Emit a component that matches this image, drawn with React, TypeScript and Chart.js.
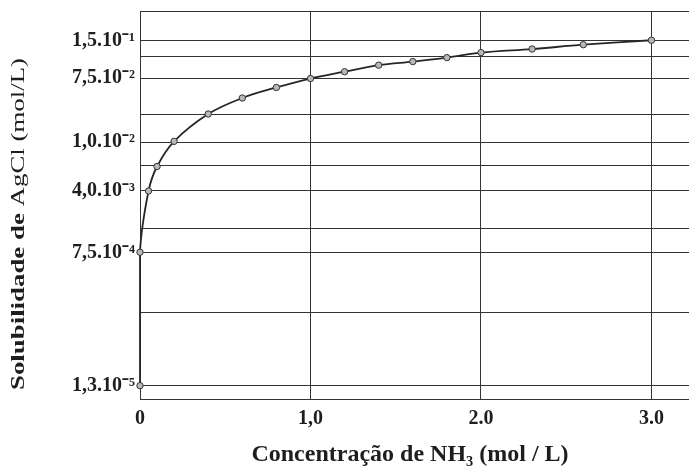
import React, { useEffect, useRef } from 'react';
import { Chart, registerables, Scale } from 'chart.js';

// ---- data ----
const NH3_CONC = [0, 0, 0.05, 0.1, 0.2, 0.4, 0.6, 0.8, 1.0, 1.2, 1.4, 1.6, 1.8, 2.0, 2.3, 2.6, 3.0];
const AGCL_SOLUBILITY = [
  1.3e-5, 7.6e-4, 4.0e-3, 6.4e-3, 1.03e-2, 2.4e-2, 4.0e-2, 5.6e-2, 7.45e-2,
  8.4e-2, 9.4e-2, 1.0e-1, 1.07e-1, 1.18e-1, 1.27e-1, 1.39e-1, 1.52e-1,
];

const X_TICK_VALUES = [0, 1, 2, 3];
const X_TICK_LABELS = ['0', '1,0', '2.0', '3.0'];

// y axis gridlines (ascending) and their labels
const Y_GRID_VALUES = [8.8e-6, 1.3e-5, 1.2e-4, 7.5e-4, 1.5e-3, 4.0e-3, 6.5e-3, 1.0e-2, 2.4e-2, 7.5e-2, 1.1e-1, 1.5e-1, 2.6e-1];
const Y_GRID_LABELS = ['', '1,3.10⁻⁵', '', '7,5.10⁻⁴', '', '4,0.10⁻³', '', '1,0.10⁻²', '', '7,5.10⁻²', '', '1,5.10⁻¹', ''];
// axis layout: fraction of the axis height at which each gridline value sits (non-uniform hand-drawn axis)
const Y_GRID_FRACTIONS = [0, 0.0343, 0.2224, 0.3771, 0.4399, 0.5361, 0.6013, 0.6616, 0.7345, 0.8265, 0.884, 0.9227, 1];

const X_TITLE = 'Concentração de NH₃ (mol / L)';
const Y_TITLE_BOLD = 'Solubilidade de ';
const Y_TITLE_REST = 'AgCl (mol/L)';

const FONT = '"Liberation Serif", "Times New Roman", serif';

function toDecimal(v: number): number {
  const vals = Y_GRID_VALUES;
  const fr = Y_GRID_FRACTIONS;
  if (v <= vals[0]) return fr[0];
  if (v >= vals[vals.length - 1]) return fr[fr.length - 1];
  const lv = Math.log10(v);
  for (let i = 0; i < vals.length - 1; i++) {
    if (v <= vals[i + 1]) {
      const a = Math.log10(vals[i]);
      const b = Math.log10(vals[i + 1]);
      const t = (lv - a) / (b - a);
      return fr[i] + t * (fr[i + 1] - fr[i]);
    }
  }
  return 1;
}

function fromDecimal(d: number): number {
  const vals = Y_GRID_VALUES;
  const fr = Y_GRID_FRACTIONS;
  if (d <= fr[0]) return vals[0];
  if (d >= fr[fr.length - 1]) return vals[vals.length - 1];
  for (let i = 0; i < fr.length - 1; i++) {
    if (d <= fr[i + 1]) {
      const t = (d - fr[i]) / (fr[i + 1] - fr[i]);
      const a = Math.log10(vals[i]);
      const b = Math.log10(vals[i + 1]);
      return Math.pow(10, a + t * (b - a));
    }
  }
  return vals[vals.length - 1];
}

class AnchoredScale extends Scale {
  static id = 'anchored';
  static defaults = {};
  determineDataLimits() {
    (this as any).min = Y_GRID_VALUES[0];
    (this as any).max = Y_GRID_VALUES[Y_GRID_VALUES.length - 1];
  }
  buildTicks() {
    return Y_GRID_VALUES.map((v) => ({ value: v }));
  }
  getLabelForValue(v: number) {
    return String(v);
  }
  getPixelForValue(v: number) {
    return this.getPixelForDecimal(toDecimal(v));
  }
  getPixelForTick(i: number) {
    const t = (this as any).ticks;
    if (i < 0 || i >= t.length) return NaN;
    return this.getPixelForValue(t[i].value);
  }
  getValueForPixel(p: number) {
    return fromDecimal(this.getDecimalForPixel(p));
  }
}

Chart.register(...registerables, AnchoredScale as any);

const titlePlugin = {
  id: 'axisTitles',
  afterDraw(chart: any) {
    const ctx = chart.ctx as CanvasRenderingContext2D;
    ctx.save();
    ctx.fillStyle = '#1e1e1e';
    ctx.font = `bold 24px ${FONT}`;
    ctx.textAlign = 'center';
    ctx.textBaseline = 'alphabetic';
    ctx.fillText(X_TITLE, 410, 461);
    ctx.restore();

    ctx.save();
    ctx.fillStyle = '#1e1e1e';
    ctx.translate(24, 224);
    ctx.rotate(-Math.PI / 2);
    ctx.textBaseline = 'alphabetic';
    ctx.textAlign = 'left';
    ctx.font = `bold 19px ${FONT}`;
    const w1 = ctx.measureText(Y_TITLE_BOLD).width;
    ctx.font = `19px ${FONT}`;
    const w2 = ctx.measureText(Y_TITLE_REST).width;
    const sx = 332 / (w1 + w2);
    ctx.scale(sx, 1);
    const start = -(w1 + w2) / 2;
    ctx.font = `bold 19px ${FONT}`;
    ctx.fillText(Y_TITLE_BOLD, start, 0);
    ctx.font = `19px ${FONT}`;
    ctx.fillText(Y_TITLE_REST, start + w1, 0);
    ctx.restore();
  },
};

const zeroPad = (s: any) => {
  s.paddingTop = 0;
  s.paddingBottom = 0;
  s.paddingLeft = 0;
  s.paddingRight = 0;
};

export default function App() {
  const ref = useRef<HTMLCanvasElement | null>(null);
  useEffect(() => {
    if (!ref.current) return;
    const chart = new Chart(ref.current, {
      type: 'line',
      data: {
        datasets: [
          {
            data: NH3_CONC.map((x, i) => ({ x, y: AGCL_SOLUBILITY[i] })),
            borderColor: '#262626',
            borderWidth: 1.8,
            tension: 0.35,
            pointRadius: 3.2,
            pointBorderWidth: 1,
            pointBorderColor: '#333',
            pointBackgroundColor: '#b8b8b8',
            clip: false as any,
          },
        ],
      },
      options: {
        animation: false,
        responsive: false,
        events: [],
        layout: { autoPadding: false, padding: { top: 11, left: 0, right: 0, bottom: 0 } },
        plugins: { legend: { display: false }, tooltip: { enabled: false } },
        scales: {
          x: {
            type: 'linear',
            min: 0,
            max: 3.22,
            afterBuildTicks: (s: any) => {
              s.ticks = X_TICK_VALUES.map((v) => ({ value: v }));
            },
            afterFit: (s: any) => {
              s.height = 67;
              zeroPad(s);
            },
            grid: { color: '#333', lineWidth: 1, drawTicks: false },
            border: { color: '#333', width: 1 },
            ticks: {
              padding: 8,
              color: '#1e1e1e',
              font: { family: FONT, size: 20, weight: 'bold' },
              maxRotation: 0,
              autoSkip: false,
              callback: (v: any) => {
                const i = X_TICK_VALUES.indexOf(Number(v));
                return i >= 0 ? X_TICK_LABELS[i] : '';
              },
            },
          },
          y: {
            type: 'anchored' as any,
            afterFit: (s: any) => {
              s.width = 140;
              zeroPad(s);
            },
            grid: { color: '#333', lineWidth: 1, drawTicks: false },
            border: { color: '#333', width: 1 },
            ticks: {
              padding: 5,
              color: '#1e1e1e',
              autoSkip: false,
              font: { family: FONT, size: 20, weight: 'bold' },
              callback: (v: any, i: number) => Y_GRID_LABELS[i] ?? '',
            },
          } as any,
        },
      },
      plugins: [titlePlugin],
    } as any);
    return () => chart.destroy();
  }, []);
  return (
    <div style={{ position: 'fixed', left: 0, top: 0, width: 689, height: 466, background: '#fff' }}>
      <canvas ref={ref} width={689} height={466} style={{ display: 'block' }} />
    </div>
  );
}
